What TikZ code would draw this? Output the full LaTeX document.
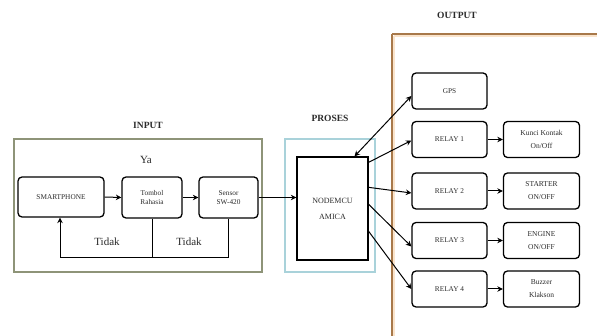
\documentclass[tikz,border=0pt]{standalone}
\usepackage{fontspec}
\setmainfont{Liberation Serif}
\usetikzlibrary{arrows.meta}
\definecolor{inputc}{HTML}{8E9478}
\definecolor{prosesc}{HTML}{A9D2DA}
\definecolor{outc}{HTML}{A8794A}
\definecolor{outin}{HTML}{FAE4CC}
\definecolor{txt}{HTML}{2A2A2A}
\tikzset{
  blk/.style={draw=black, line width=1.3pt, rounded corners=4pt, text=txt, font=\fontsize{7.3}{9.5}\selectfont, align=center, inner sep=0pt},
  arr/.style={line width=1pt, -{Stealth[length=5.5pt,width=5.5pt]}},
  darr/.style={line width=1pt, {Stealth[length=5.5pt,width=5.5pt]}-{Stealth[length=5.5pt,width=5.5pt]}},
  ln/.style={line width=1pt},
  ttl/.style={font=\fontsize{9.5}{11}\selectfont\bfseries, text=txt},
  lbl/.style={font=\fontsize{11}{13}\selectfont, text=txt},
}
\begin{document}
\begin{tikzpicture}[x=1pt,y=-1pt]
\useasboundingbox (0,0) rectangle (597,336);
% group frames
\draw[inputc, line width=1.6pt] (14,139) rectangle (262,272);
\draw[prosesc, line width=1.3pt] (285,139) rectangle (375,272);
\draw[outin, line width=2pt] (394.2,36.2) -- (640,36.2);
\draw[outin, line width=2pt] (394.2,36.2) -- (394.2,360);
\draw[outc, line width=1.2pt] (392,34) -- (640,34);
\draw[outc, line width=1.2pt] (392,34) -- (392,360);
% titles
\node[ttl] (tin) at (148,125) {INPUT};
\node[ttl] (tpr) at (330,118) {PROSES};
\node[ttl] (tout) at (457,15) {OUTPUT};
\node[lbl] (ya) at (146,160) {Ya};
\node[lbl] (t1) at (107,242) {Tidak};
\node[lbl] (t2) at (189,242) {Tidak};
% input blocks
\node[blk, minimum width=86pt, minimum height=40pt] (smart) at (61,197) {SMARTPHONE};
\node[blk, minimum width=60pt, minimum height=41pt] (tombol) at (152,197.5) {Tombol\\Rahasia};
\node[blk, minimum width=59pt, minimum height=41pt] (sensor) at (228.5,197.5) {Sensor\\SW-420};
% process
\node[draw=black, line width=1.3pt, minimum width=71pt, minimum height=103pt, inner sep=0pt, text=txt, font=\fontsize{8}{16}\selectfont, align=center] (mcu) at (332.5,208.5) {NODEMCU\\AMICA};
% outputs
\node[blk, minimum width=75pt, minimum height=36pt] (gps) at (449.5,91) {GPS};
\node[blk, minimum width=75pt, minimum height=36pt] (r1) at (449.5,139.5) {RELAY 1};
\node[blk, minimum width=75pt, minimum height=36pt] (r2) at (449.5,191) {RELAY 2};
\node[blk, minimum width=75pt, minimum height=36pt] (r3) at (449.5,240.5) {RELAY 3};
\node[blk, minimum width=75pt, minimum height=36pt] (r4) at (449.5,289) {RELAY 4};
\node[blk, minimum width=76pt, minimum height=36pt, font=\fontsize{7.5}{13}\selectfont] (d1) at (541.5,139.5) {Kunci Kontak\\On/Off};
\node[blk, minimum width=76pt, minimum height=36pt, font=\fontsize{7.5}{13}\selectfont] (d2) at (541.5,191) {STARTER\\ON/OFF};
\node[blk, minimum width=76pt, minimum height=36pt, font=\fontsize{7.5}{13}\selectfont] (d3) at (541.5,240.5) {ENGINE\\ON/OFF};
\node[blk, minimum width=76pt, minimum height=36pt, font=\fontsize{7.5}{13}\selectfont] (d4) at (541.5,289) {Buzzer\\Klakson};
% input connections
\draw[arr] (smart.east) -- (tombol.west);
\draw[arr] (tombol.east) -- (sensor.west);
\draw[arr] (sensor.east) -- (sensor.east -| mcu.west);
\coordinate (fb) at (60,258);
\draw[ln] (tombol.south) -- (tombol.south |- fb);
\draw[arr] (sensor.south) -- (sensor.south |- fb) -- (fb) -- (smart.south -| fb);
% process to outputs
\draw[darr] ([xshift=22pt]mcu.north) -- ([yshift=-5pt]gps.west);
\draw[arr] ([yshift=-6pt]mcu.north east) -- ([yshift=-1pt]r1.west);
\draw[arr] ([yshift=-31pt]mcu.north east) -- ([yshift=-2pt]r2.west);
\draw[arr] ([yshift=-48pt]mcu.north east) -- ([yshift=-6pt]r3.west);
\draw[arr] ([yshift=-75pt]mcu.north east) -- (r4.west);
% relay to devices
\draw[arr] (r1.east) -- (d1.west);
\draw[arr] (r2.east) -- (d2.west);
\draw[arr] (r3.east) -- (d3.west);
\draw[arr] (r4.east) -- (d4.west);
\end{tikzpicture}
\end{document}
